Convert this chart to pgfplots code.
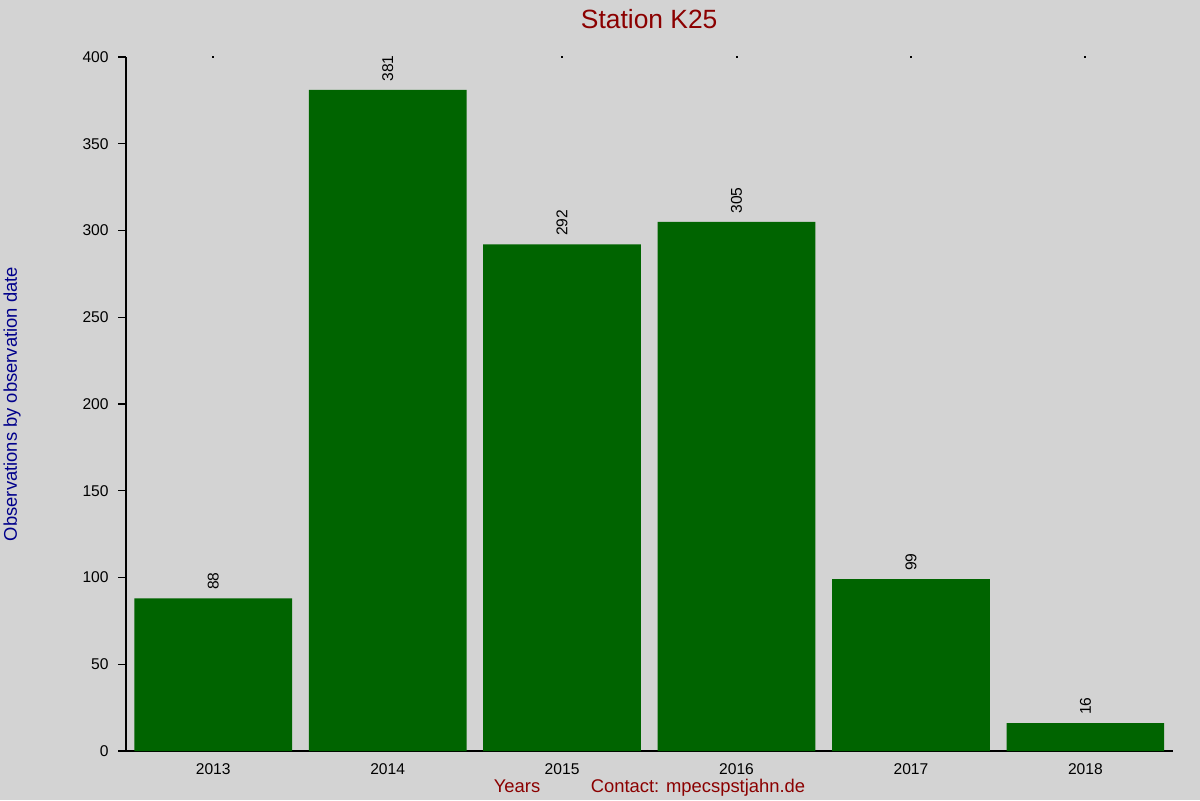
\documentclass[border=0pt]{standalone}
\usepackage{pgfplots}
\pgfplotsset{compat=1.18}
\usepackage{fontspec}
\setmainfont{Liberation Sans}
\definecolor{bgcol}{HTML}{D3D3D3}
\definecolor{bargreen}{HTML}{006400}
\definecolor{titlered}{HTML}{8B0000}
\definecolor{labelblue}{HTML}{00008B}
\begin{document}
\begin{tikzpicture}
% page: 1200x800 px at 0.5pt per px, plot box lower-left at (126,751) px
\fill[bgcol] (-63pt,-24.5pt) rectangle (537pt,375.5pt);
\begin{axis}[
  at={(0pt,0pt)}, anchor=south west,
  scale only axis,
  width=523.3pt, height=347pt,
  xmin=-0.5, xmax=5.5,
  ymin=0, ymax=400,
  axis lines=left,
  axis line style={-, black, line width=0.6pt},
  xtick={0,1,2,3,4,5},
  xticklabels={2013,2014,2015,2016,2017,2018},
  xtick style={draw=none},
  ytick={0,50,...,400},
  ytick style={black, line width=0.6pt},
  tick align=outside,
  major tick length=4pt,
  /pgf/number format/assume math mode=true,
  ticklabel style={font=\fontsize{7.8}{9}\selectfont, text=black},
  yticklabel style={inner sep=1pt, xshift=-3.5pt},
  xticklabel style={inner sep=1pt, yshift=-1pt},
  ybar, bar width=78.85pt,
  clip=false,
]
\addplot[fill=bargreen, draw=none,
  nodes near coords,
  every node near coord/.append style={rotate=90, anchor=west,
    font=\fontsize{7.8}{9}\selectfont, text=black, inner sep=0pt, xshift=4pt}]
  coordinates {(0,88) (1,381) (2,292) (3,305) (4,99) (5,16)};
\addplot[only marks, mark=square*, mark size=0.25pt, black, forget plot]
  coordinates {(0,400) (2,400) (3,400) (4,400) (5,400)};
\end{axis}
\node[text=titlered, font=\fontsize{13.2}{15}\selectfont, inner sep=0pt] at (261.6pt,366pt) {Station K25};
\node[text=labelblue, font=\fontsize{9.2}{11}\selectfont, rotate=90, inner sep=0pt] at (-57pt,173.5pt) {Observations by observation date};
\node[text=titlered, font=\fontsize{9.2}{11}\selectfont, inner sep=0pt, anchor=base] at (195.5pt,-20.5pt) {Years};
\node[text=titlered, font=\fontsize{9.2}{11}\selectfont, inner sep=0pt, anchor=base] at (286pt,-20.5pt) {Contact: mpecspstjahn.de};
\pgfresetboundingbox
\path[use as bounding box] (-63pt,-24.5pt) rectangle (537pt,375.5pt);
\end{tikzpicture}
\end{document}
